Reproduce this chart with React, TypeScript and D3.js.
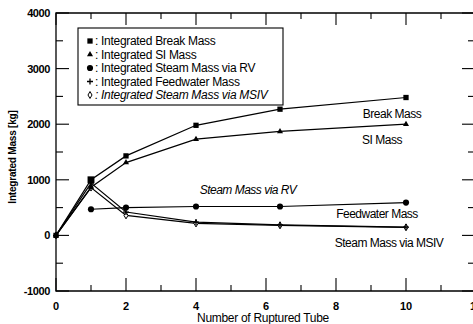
import React from "react";
import * as d3 from "d3";

// Number of ruptured tubes at which each case was run
const tubes = [0, 1, 2, 4, 6.4, 10];
const rvTubes = [1, 2, 4, 6.4, 10];

// Integrated masses [kg]
const breakMass = [0, 1000, 1430, 1980, 2270, 2480];
const siMass = [0, 865, 1310, 1730, 1870, 2000];
const steamRvMass = [470, 500, 520, 520, 590];
const feedwaterMass = [0, 940, 420, 240, 190, 150];
const steamMsivMass = [0, 860, 360, 215, 180, 145];

const xTicks = [0, 2, 4, 6, 8, 10, 12];
const xMinorTicks = [1, 3, 5, 7, 9, 11];
const yTicks = [-1000, 0, 1000, 2000, 3000, 4000];
const yMinorTicks = [-500, 500, 1500, 2500, 3500];

const legendItems = [
  { key: "break", label: "Integrated Break Mass", italic: false },
  { key: "si", label: "Integrated SI Mass", italic: false },
  { key: "rv", label: "Integrated Steam Mass via RV", italic: false },
  { key: "fw", label: "Integrated Feedwater Mass", italic: false },
  { key: "msiv", label: "Integrated Steam Mass via MSIV", italic: true },
];

const W = 473;
const H = 324;
const left = 56;
const right = 476;
const top = 13;
const bottom = 291;

const font = "'Liberation Sans', Arial, Helvetica, sans-serif";

function Marker({ kind, x, y, size = 1 }: { kind: string; x: number; y: number; size?: number }) {
  if (kind === "break") {
    const p = d3.symbol(d3.symbolSquare, 28 * size)();
    return <path d={p!} transform={`translate(${x},${y})`} fill="#000" />;
  }
  if (kind === "si") {
    const p = d3.symbol(d3.symbolTriangle, 16 * size)();
    return <path d={p!} transform={`translate(${x},${y})`} fill="#000" />;
  }
  if (kind === "rv") {
    const p = d3.symbol(d3.symbolCircle, 30 * size)();
    return <path d={p!} transform={`translate(${x},${y})`} fill="#000" />;
  }
  if (kind === "fw") {
    const s = 3 * size;
    return (
      <path
        d={`M${x - s},${y}H${x + s}M${x},${y - s}V${y + s}`}
        stroke="#000"
        strokeWidth={1.3}
        fill="none"
      />
    );
  }
  const p = d3.symbol(d3.symbolDiamond, 14 * size)();
  return <path d={p!} transform={`translate(${x},${y})`} fill="#fff" stroke="#000" strokeWidth={1} />;
}

export default function App() {
  const x = d3.scaleLinear().domain([0, 12]).range([left, right]);
  const y = d3.scaleLinear().domain([-1000, 4000]).range([bottom, top]);

  const line = d3
    .line<[number, number]>()
    .x((d) => x(d[0]))
    .y((d) => y(d[1]));

  // drawn bottom-up so the plus markers sit on top of the diamonds
  const series = [
    { key: "msiv", xs: tubes, ys: steamMsivMass },
    { key: "fw", xs: tubes, ys: feedwaterMass },
    { key: "rv", xs: rvTubes, ys: steamRvMass },
    { key: "si", xs: tubes, ys: siMass },
    { key: "break", xs: tubes, ys: breakMass },
  ];

  return (
    <svg
      width={W}
      height={H}
      style={{ position: "absolute", left: 0, top: 0, background: "#fff" }}
      fontFamily={font}
    >
      {/* frame */}
      <path
        d={`M${left},${top}H${right}V${bottom}H${left}Z`}
        fill="none"
        stroke="#000"
        strokeWidth={1.3}
      />
      {/* x ticks, bottom and top, pointing inward */}
      {xTicks.map((t) => (
        <g key={`xt${t}`}>
          <line x1={x(t)} x2={x(t)} y1={bottom} y2={bottom - 13} stroke="#000" strokeWidth={1.1} />
          <line x1={x(t)} x2={x(t)} y1={top} y2={top + 12} stroke="#000" strokeWidth={1.1} />
        </g>
      ))}
      {xMinorTicks.map((t) => (
        <g key={`xm${t}`}>
          <line x1={x(t)} x2={x(t)} y1={bottom} y2={bottom - 6} stroke="#000" strokeWidth={1.1} />
          <line x1={x(t)} x2={x(t)} y1={top} y2={top + 6} stroke="#000" strokeWidth={1.1} />
        </g>
      ))}
      {/* y ticks, left and right */}
      {yTicks.map((t) => (
        <g key={`yt${t}`}>
          <line x1={left} x2={left + 13} y1={y(t)} y2={y(t)} stroke="#000" strokeWidth={1.1} />
          <line x1={right} x2={right - 14} y1={y(t)} y2={y(t)} stroke="#000" strokeWidth={1.1} />
        </g>
      ))}
      {yMinorTicks.map((t) => (
        <g key={`ym${t}`}>
          <line x1={left} x2={left + 7} y1={y(t)} y2={y(t)} stroke="#000" strokeWidth={1.1} />
          <line x1={right} x2={right - 8} y1={y(t)} y2={y(t)} stroke="#000" strokeWidth={1.1} />
        </g>
      ))}

      {/* tick labels */}
      {yTicks.map((t) => (
        <text
          key={`yl${t}`}
          x={left - 6}
          y={y(t) + 4}
          textAnchor="end"
          fontSize={11}
          fontWeight="bold"
          letterSpacing={-0.4}
        >
          {t}
        </text>
      ))}
      {xTicks.map((t) => (
        <text
          key={`xl${t}`}
          x={x(t)}
          y={bottom + 19}
          textAnchor="middle"
          fontSize={11}
          fontWeight="bold"
        >
          {t}
        </text>
      ))}

      {/* axis titles */}
      <text x={263} y={322} textAnchor="middle" fontSize={12} letterSpacing={-0.3}>
        Number of Ruptured Tube
      </text>
      <text
        transform={`translate(16,${157}) rotate(-90)`}
        textAnchor="middle"
        fontSize={10}
        fontWeight="bold"
        letterSpacing={-0.2}
      >
        Integrated Mass [kg]
      </text>

      {/* series lines and markers */}
      {series.map((s) => {
        const pts = s.xs.map((v, i) => [v, s.ys[i]] as [number, number]);
        return (
          <g key={s.key}>
            <path d={line(pts)!} fill="none" stroke="#000" strokeWidth={1.2} />
            {pts.map((p, i) => (
              <Marker
                key={i}
                kind={s.key}
                x={x(p[0])}
                y={y(p[1])}
                size={s.key === "break" && p[0] === 1 ? 1.7 : 1}
              />
            ))}
          </g>
        );
      })}

      {/* curve labels */}
      <text x={392} y={118} textAnchor="middle" fontSize={12} letterSpacing={-0.5}>
        Break Mass
      </text>
      <text x={382} y={144} textAnchor="middle" fontSize={12} letterSpacing={-0.5}>
        SI Mass
      </text>
      <text x={248} y={194} textAnchor="middle" fontSize={12} fontStyle="italic" letterSpacing={-0.5}>
        Steam Mass via RV
      </text>
      <text x={377} y={218} textAnchor="middle" fontSize={12} letterSpacing={-0.5}>
        Feedwater Mass
      </text>
      <text x={389} y={247} textAnchor="middle" fontSize={12} letterSpacing={-0.5}>
        Steam Mass via MSIV
      </text>

      {/* legend */}
      <rect x={78} y={28} width={205} height={77} fill="#fff" stroke="#000" strokeWidth={1.1} />
      {legendItems.map((it, i) => {
        const cy = 41 + i * 13.5;
        return (
          <g key={it.key}>
            <Marker kind={it.key} x={90} y={cy} size={1} />
            <text
              x={95}
              y={cy + 4}
              fontSize={12}
              letterSpacing={-0.3}
              fontStyle={it.italic ? "italic" : "normal"}
            >
              {": " + it.label}
            </text>
          </g>
        );
      })}
    </svg>
  );
}
